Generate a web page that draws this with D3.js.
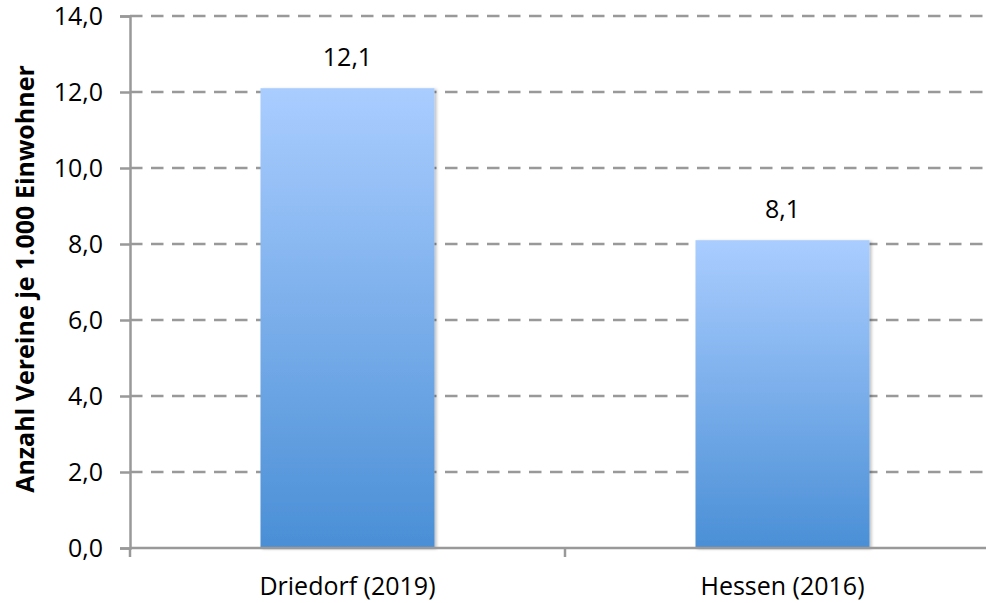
<!DOCTYPE html>
<html>
<head>
<meta charset="utf-8">
<script src="https://cdn.jsdelivr.net/npm/d3@7"></script>
<style>
  body { margin: 0; background: #fff; }
  svg { display: block; }
  text { font-family: "Open Sans", sans-serif; fill: #000; }
</style>
</head>
<body>
<script>
var w = 986;
var h = 603;

// Data
var categories = ["Driedorf (2019)", "Hessen (2016)"];
var values = [12.1, 8.1];
var yTicks = [0, 2, 4, 6, 8, 10, 12, 14];
var yTitle = "Anzahl Vereine je 1.000 Einwohner";

// German number format
var de = d3.formatLocale({ decimal: ",", thousands: ".", grouping: [3], currency: ["", " €"] });
var fmt = de.format(".1f");

// plot edges (not "top": that name is taken by window.top)
var plotLeft = 130, plotRight = 1000, plotTop = 16, plotBottom = 548;

var x = d3.scaleBand()
  .domain(categories)
  .range([plotLeft, plotRight])
  .padding(0);

var y = d3.scaleLinear()
  .domain([0, 14])
  .range([plotBottom, plotTop]);

var svg = d3.select("body")
  .append("svg")
  .attr("width", w)
  .attr("height", h);

var defs = svg.append("defs");

var grad = defs.append("linearGradient")
  .attr("id", "barGrad")
  .attr("x1", 0).attr("y1", 0)
  .attr("x2", 0).attr("y2", 1);
grad.append("stop").attr("offset", "0%").attr("stop-color", "#aacdff");
grad.append("stop").attr("offset", "100%").attr("stop-color", "#4a8fd6");

var shadow = defs.append("filter")
  .attr("id", "shadow")
  .attr("x", "-10%").attr("y", "-10%")
  .attr("width", "120%").attr("height", "120%");
shadow.append("feDropShadow")
  .attr("dx", 2).attr("dy", 1)
  .attr("stdDeviation", 1.5)
  .attr("flood-color", "#000")
  .attr("flood-opacity", 0.25);

// Gridlines (dashed)
svg.append("g")
  .selectAll("line")
  .data(yTicks.filter(function(d) { return d > 0; }))
  .enter()
  .append("line")
  .attr("x1", plotLeft)
  .attr("x2", 985)
  .attr("y1", function(d) { return y(d); })
  .attr("y2", function(d) { return y(d); })
  .attr("stroke", "#999")
  .attr("stroke-width", 2.5)
  .attr("stroke-dasharray", "12.5,8.5");

// Y axis
var yAxis = svg.append("g")
  .attr("transform", "translate(" + plotLeft + ",0)")
  .call(d3.axisLeft(y).tickValues(yTicks).tickFormat(fmt).tickSize(10).tickPadding(17));
yAxis.select(".domain").attr("stroke", "#999").attr("stroke-width", 2.5);
yAxis.selectAll(".tick line").attr("stroke", "#999").attr("stroke-width", 2.5);
yAxis.selectAll(".tick text")
  .style("font-family", "'Open Sans', sans-serif")
  .style("font-size", "25px")
  .attr("fill", "#000");

// Bars
var barW = x.bandwidth() * 0.4;
svg.append("g")
  .selectAll("rect")
  .data(values)
  .enter()
  .append("rect")
  .attr("x", function(d, i) { return x(categories[i]) + x.bandwidth() / 2 - barW / 2; })
  .attr("y", function(d) { return y(d); })
  .attr("width", barW)
  .attr("height", function(d) { return plotBottom - y(d); })
  .attr("fill", "url(#barGrad)")
  .attr("filter", "url(#shadow)");

// X axis
var xAxisG = svg.append("g")
  .attr("transform", "translate(0," + plotBottom + ")");
xAxisG.append("line")
  .attr("x1", plotLeft).attr("x2", w)
  .attr("stroke", "#999").attr("stroke-width", 2.5);
xAxisG.selectAll("line.tk")
  .data(categories.concat(["end"]))
  .enter()
  .append("line")
  .attr("class", "tk")
  .attr("x1", function(d, i) { return plotLeft + i * x.step(); })
  .attr("x2", function(d, i) { return plotLeft + i * x.step(); })
  .attr("y1", 0).attr("y2", 9)
  .attr("stroke", "#999").attr("stroke-width", 2.5);
xAxisG.selectAll("text")
  .data(categories)
  .enter()
  .append("text")
  .attr("x", function(d) { return x(d) + x.bandwidth() / 2; })
  .attr("y", 47)
  .attr("text-anchor", "middle")
  .style("font-size", "25px")
  .text(function(d) { return d; });

// Value labels
svg.append("g")
  .selectAll("text")
  .data(values)
  .enter()
  .append("text")
  .attr("x", function(d, i) { return x(categories[i]) + x.bandwidth() / 2; })
  .attr("y", function(d) { return y(d) - 22; })
  .attr("text-anchor", "middle")
  .style("font-size", "25px")
  .text(function(d) { return fmt(d); });

// Y title
svg.append("text")
  .attr("transform", "translate(34,279) rotate(-90)")
  .attr("text-anchor", "middle")
  .style("font-size", "25px")
  .style("font-weight", "bold")
  .text(yTitle);
</script>
</body>
</html>
